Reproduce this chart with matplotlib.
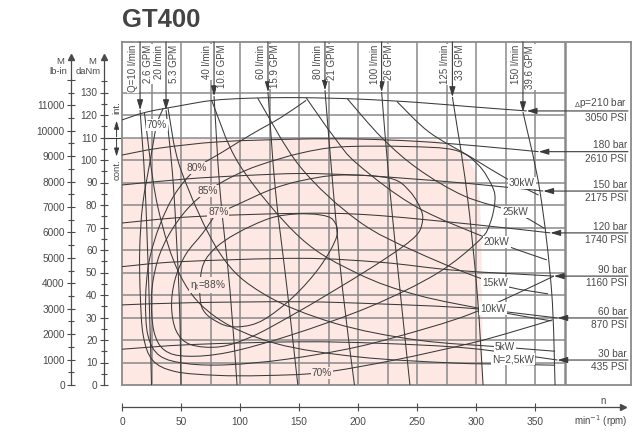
import matplotlib
matplotlib.use("Agg")
import matplotlib.pyplot as plt
from matplotlib.path import Path
from matplotlib.patches import PathPatch

plt.rcParams["font.family"] = ["Liberation Sans", "DejaVu Sans"]

# ---- values: speed n in rpm, torque M in daNm ----
rpm_ticks = [0, 50, 100, 150, 200, 250, 300, 350]
danm_ticks = list(range(0, 140, 10))
lbin_ticks = list(range(0, 12000, 1000))

# continuous duty area (pink)
cont_rpm = [0, 100, 200, 266, 289, 299, 303.4, 304.8, 305.7]
cont_torque = [109.6, 109.6, 109.5, 108.9, 103.7, 95.6, 82.2, 57.0, 0]

# pressure lines (dp)
pressure_bar = ["${}_{\\Delta}$p=210 bar", "180 bar", "150 bar", "120 bar", "90 bar", "60 bar", "30 bar"]
pressure_psi = ["3050 PSI", "2610 PSI", "2175 PSI", "1740 PSI", "1160 PSI", "870 PSI", "435 PSI"]
pressure_rpm = [
    [0, 20, 49, 77, 110, 151, 199, 250, 295, 343],
    [0, 32, 83, 150, 200, 250, 300, 353],
    [0, 55, 100, 151, 199, 236, 295, 357],
    [0, 60, 151, 210, 295, 363],
    [0, 49, 151, 220, 282, 366],
    [0, 60, 151, 220, 295, 369],
    [0, 60, 151, 220, 295, 369],
]
pressure_torque = [
    [117.8, 121.2, 124.1, 126.5, 127.5, 127.7, 127.1, 125.6, 123.7, 121.8],
    [102.2, 105.3, 108.1, 109.3, 109.3, 108.3, 106.3, 103.7],
    [88.9, 91.6, 93.0, 94.0, 93.3, 92.0, 89.5, 86.2],
    [72.0, 74.8, 76.3, 75.6, 71.5, 67.6],
    [52.6, 54.8, 56.3, 54.5, 51.0, 48.4],
    [35.6, 36.6, 37.0, 36.0, 34.1, 29.8],
    [15.9, 18.0, 19.2, 18.5, 16.3, 11.1],
]

# flow lines (Q)
flow_lpm = ["Q=10 l/min", "20 l/min", "40 l/min", "60 l/min", "80 l/min", "100 l/min", "125 l/min", "150 l/min"]
flow_gpm = ["2.6 GPM", "5.3 GPM", "10.6 GPM", "15.9 GPM", "21 GPM", "26 GPM", "33 GPM", "39.6 GPM"]
flow_rpm = [
    [15.3, 19.5, 23.0, 25.0],
    [37.3, 43.5, 48.5, 50.0],
    [78.0, 83.0, 91.5, 97.5],
    [123.7, 130.0, 140.0, 149.0],
    [172.0, 179.0, 187.0, 197.0],
    [220.0, 227.0, 235.6, 244.0],
    [280.0, 292.0, 300.8, 306.0],
    [339.8, 354.0, 364.0, 367.0],
]
flow_torque = [
    [122.2, 89.0, 39.0, 0],
    [122.2, 89.0, 39.0, 0],
    [128.4, 86.7, 42.2, 0],
    [130.2, 86.7, 42.2, 0],
    [131.0, 86.7, 42.2, 0],
    [130.2, 86.7, 42.2, 0],
    [128.0, 86.7, 42.2, 0],
    [121.3, 86.7, 42.2, 0],
]

# power lines (N)
power_label = ["30kW", "25kW", "20kW", "15kW", "10kW", "5kW", "N=2,5kW"]
power_label_rpm = [338.7, 333.0, 317.5, 316.0, 314.4, 324.6, 331.4]
power_label_torque = [89.9, 76.7, 63.7, 45.2, 34.0, 17.0, 11.4]
power_rpm = [
    [233, 260, 295, 325, 353],
    [191, 220, 251, 290, 333, 358],
    [156, 180, 200, 250, 317, 360],
    [115, 151, 200, 250, 316, 361],
    [76, 100, 151, 200, 250, 314, 364],
    [39, 50, 83, 120, 180, 250, 324, 367],
    [19, 30, 50, 80, 130, 200, 280, 331, 367],
]
power_torque = [
    [126.0, 112.5, 101.5, 92.0, 84.4],
    [127.2, 110.0, 96.0, 84.0, 76.7, 69.6],
    [127.7, 110.0, 98.0, 79.0, 63.7, 55.6],
    [127.5, 97.0, 73.0, 59.0, 45.2, 40.5],
    [126.5, 97.5, 65.5, 49.5, 40.0, 33.0, 28.5],
    [123.0, 95.5, 58.5, 40.5, 27.5, 20.0, 16.8, 15.0],
    [121.0, 80.0, 48.0, 30.0, 18.5, 12.5, 9.8, 9.2, 8.8],
]

# efficiency lines (eta_t)
eff70_rpm = [35, 29.4, 24, 17.5, 15, 15.5, 18, 26, 45, 80, 120, 169, 230, 295, 330, 365]
eff70_torque = [123.0, 115.6, 100, 80, 60, 40, 22, 11, 6, 4.3, 4.2, 5.5, 11, 18.5, 23.5, 29]
eff80_rpm = [156, 135, 110, 85, 63.3, 45, 32, 23, 20, 22, 32, 55, 90, 140, 200, 260, 295, 330, 366]
eff80_torque = [126.5, 119, 111.5, 103.5, 96.3, 85, 71, 55, 38, 22, 13, 9.5, 9, 11.5, 17, 25.5, 31.5, 39.5, 48.4]
eff85_rpm = [72.5, 95, 117, 151, 185, 240, 282, 302, 314, 316, 312, 303, 267, 210, 142, 90, 55, 36, 27, 25, 30, 40, 55]
eff85_torque = [86.2, 93, 97.8, 103, 105.8, 106, 104.4, 97.8, 88, 81.5, 72, 64.4, 49.6, 34.8, 22, 14.5, 12.8, 15.5, 24, 40, 55, 67, 78]
eff87_rpm = [81.6, 91.5, 125.4, 151, 184.7, 227, 244, 254, 254, 249.7, 238, 212.7, 176, 142, 110, 83, 58, 46, 42, 45, 54, 68.6]
eff87_torque = [77, 78.7, 86.7, 90.7, 93.3, 91.9, 86, 77, 71.1, 66.7, 61.5, 52.6, 40.8, 30.4, 21.5, 17, 18, 24, 35, 47, 58, 67.6]
eff88_rpm = [67.5, 77.4, 97.2, 125.4, 148, 167.8, 179, 182, 167.8, 145.2, 119.7, 100, 83.1, 67.5]
eff88_torque = [51.1, 60, 67.4, 74.1, 76, 75.6, 73.3, 66.1, 52.6, 39.2, 28.9, 25.9, 27.4, 34.8]
eff_label = ["70%", "80%", "85%", "87%", "η$_\\mathregular{t}$=88%", "70%"]
eff_label_rpm = [29.4, 63.3, 72.5, 81.6, 73.1, 169.2]
eff_label_torque = [115.6, 96.3, 86.2, 77.0, 44.4, 5.5]

# ---- styling ----
W, H = 638, 434
N_MAX = (631 - 122) / 1.18
M_MAX = (385 - 42) / 2.25
LB_PER_DANM = 1 / 0.0112985
LINE = "#3a3a3a"
GRIDC = "#8a8a8a"
TXT = "#4a4a4a"
PINK = "#fde8e3"


def curve(ax, xs, ys, closed=False, **kw):
    # smooth line through the read points (Catmull-Rom drawn as Bezier path)
    pts = list(zip(xs, ys))
    n = len(pts)

    def get(i):
        if closed:
            return pts[i % n]
        return pts[min(max(i, 0), n - 1)]

    verts = [pts[0]]
    codes = [Path.MOVETO]
    for i in range(n if closed else n - 1):
        p0, p1, p2, p3 = get(i - 1), get(i), get(i + 1), get(i + 2)
        c1 = (p1[0] + (p2[0] - p0[0]) / 6, p1[1] + (p2[1] - p0[1]) / 6)
        c2 = (p2[0] - (p3[0] - p1[0]) / 6, p2[1] - (p3[1] - p1[1]) / 6)
        verts += [c1, c2, p2]
        codes += [Path.CURVE4] * 3
    kw.setdefault("ec", LINE)
    kw.setdefault("lw", 0.75)
    kw.setdefault("zorder", 3)
    ax.add_patch(PathPatch(Path(verts, codes), fill=False, **kw))


fig = plt.figure(figsize=(W / 100, H / 100), dpi=100)

# main chart box
ax = fig.add_axes([122 / W, 1 - 385 / H, (631 - 122) / W, (385 - 42) / H])
ax.set_xlim(0, N_MAX)
ax.set_ylim(0, M_MAX)
ax.set_xticks([])
ax.set_yticks([])
for s in ax.spines.values():
    s.set_color(GRIDC)
    s.set_linewidth(1.3)

ax.fill(cont_rpm + [0], cont_torque + [0], color=PINK, lw=0, zorder=0)

# grid
ax.vlines(list(range(25, 375, 25)), 0, M_MAX, color=GRIDC, lw=1.1, zorder=1)
ax.vlines([375], 0, M_MAX, color=GRIDC, lw=1.8, zorder=1)
ax.hlines(danm_ticks[1:], 0, 375, color=GRIDC, lw=1.1, zorder=1)

# pressure lines with labels on the right
for xs, ys, bar, psi in zip(pressure_rpm, pressure_torque, pressure_bar, pressure_psi):
    curve(ax, xs, ys)
    ax.annotate("", xy=(xs[-1], ys[-1]), xytext=(428.8, ys[-1]),
                arrowprops=dict(arrowstyle="-|>,head_length=0.6,head_width=0.18",
                                color=LINE, lw=0.8, shrinkA=0, shrinkB=0), zorder=4)
    ax.annotate(bar, xy=(428, ys[-1]), xytext=(0, 1), textcoords="offset points",
                ha="right", va="bottom", fontsize=7.3, color=TXT, zorder=5)
    ax.annotate(psi, xy=(428, ys[-1]), xytext=(0, -1.5), textcoords="offset points",
                ha="right", va="top", fontsize=7.3, color=TXT, zorder=5)

# flow lines with labels on top
for xs, ys, q, g in zip(flow_rpm, flow_torque, flow_lpm, flow_gpm):
    curve(ax, xs, ys)
    ax.annotate("", xy=(xs[0], ys[0]), xytext=(xs[0], M_MAX),
                arrowprops=dict(arrowstyle="-|>,head_length=0.6,head_width=0.18",
                                color=LINE, lw=0.8, shrinkA=0, shrinkB=0), zorder=4)
    box = dict(boxstyle="square,pad=0.1", fc="white", ec="none")
    ax.annotate(q, xy=(xs[0], M_MAX), xytext=(-1.5, -2), textcoords="offset points",
                rotation=90, ha="right", va="top", fontsize=7, color=TXT, bbox=box, zorder=5)
    ax.annotate(g, xy=(xs[0], M_MAX), xytext=(1.8, -2), textcoords="offset points",
                rotation=90, ha="left", va="top", fontsize=7, color=TXT, bbox=box, zorder=5)

# power lines
for xs, ys in zip(power_rpm, power_torque):
    curve(ax, xs, ys)
for t, x, y in zip(power_label, power_label_rpm, power_label_torque):
    ax.text(x, y, t, ha="center", va="center", fontsize=7.3, color=TXT, zorder=6,
            bbox=dict(boxstyle="square,pad=0.1", fc="white", ec="none"))

# efficiency lines
curve(ax, eff70_rpm, eff70_torque)
curve(ax, eff80_rpm, eff80_torque)
curve(ax, eff85_rpm, eff85_torque, closed=True)
curve(ax, eff87_rpm, eff87_torque, closed=True)
curve(ax, eff88_rpm, eff88_torque, closed=True)
for t, x, y in zip(eff_label, eff_label_rpm, eff_label_torque):
    fc = "white" if y > 110 else PINK
    ax.text(x, y, t, ha="center", va="center", fontsize=7.3, color=TXT, zorder=6,
            bbox=dict(boxstyle="square,pad=0.1", fc=fc, ec="none"))

# int. / cont. marks between the torque scale and the box
ax.plot([-15.7, -0.8], [110, 110], color=LINE, lw=0.8, clip_on=False)
ax.annotate("", xy=(-4.6, 117.5), xytext=(-4.6, 110.3),
            arrowprops=dict(arrowstyle="-|>,head_length=0.5,head_width=0.15", color=LINE, lw=0.7,
                            shrinkA=0, shrinkB=0), annotation_clip=False)
ax.annotate("", xy=(-4.6, 101.5), xytext=(-4.6, 109.7),
            arrowprops=dict(arrowstyle="-|>,head_length=0.5,head_width=0.15", color=LINE, lw=0.7,
                            shrinkA=0, shrinkB=0), annotation_clip=False)
ax.text(-4.2, 123.5, "int.", rotation=90, ha="center", va="center", fontsize=6.8, color=TXT, clip_on=False)
ax.text(-4.2, 95.5, "cont.", rotation=90, ha="center", va="center", fontsize=6.8, color=TXT, clip_on=False)


def left_scale(xpx, top, major, minor, label_major):
    a = fig.add_axes([xpx / W, 1 - 385 / H, 0.0001, (385 - 42) / H])
    a.set_ylim(0, top)
    a.set_xlim(0, 1)
    a.patch.set_visible(False)
    for k in ["right", "top", "bottom"]:
        a.spines[k].set_visible(False)
    a.spines["left"].set_color(TXT)
    a.spines["left"].set_linewidth(0.9)
    a.set_xticks([])
    a.set_yticks(major)
    a.set_yticklabels(label_major)
    a.set_yticks(minor, minor=True)
    a.tick_params(axis="y", which="major", direction="inout", length=6, width=0.8,
                  colors=TXT, labelsize=7.3, pad=1.5)
    a.tick_params(axis="y", which="minor", direction="inout", length=4, width=0.8, colors=TXT)
    return a


arrow_top = (385 - 57) / 2.25
lb = left_scale(71, M_MAX * LB_PER_DANM, lbin_ticks + [12000],
                [v + 500 for v in lbin_ticks], [str(v) for v in lbin_ticks] + [""])
lb.spines["left"].set_bounds(0, arrow_top * LB_PER_DANM)
lb.plot([0], [arrow_top * LB_PER_DANM], marker="^", ms=5, color=TXT, clip_on=False)
da = left_scale(103.5, M_MAX, danm_ticks, [v + 5 for v in danm_ticks],
                [str(v) for v in danm_ticks])
da.spines["left"].set_bounds(0, arrow_top)
da.plot([0], [arrow_top], marker="^", ms=5, color=TXT, clip_on=False)

fig.text(60 / W, 1 - 62 / H, "M", ha="center", va="center", fontsize=6.8, color=TXT)
fig.text(67 / W, 1 - 71 / H, "lb-in", ha="right", va="center", fontsize=6.8, color=TXT)
fig.text(92 / W, 1 - 62 / H, "M", ha="center", va="center", fontsize=6.8, color=TXT)
fig.text(101 / W, 1 - 71 / H, "daNm", ha="right", va="center", fontsize=6.8, color=TXT)

# speed scale
nx = fig.add_axes([122 / W, 1 - 407 / H, (631 - 122) / W, 0.0001])
nx.set_xlim(0, N_MAX)
nx.patch.set_visible(False)
for k in ["left", "right", "top"]:
    nx.spines[k].set_visible(False)
nx.spines["bottom"].set_color(TXT)
nx.spines["bottom"].set_linewidth(0.9)
n_end = (623 - 122) / 1.18
nx.spines["bottom"].set_bounds(0, n_end)
nx.plot([n_end], [0], marker=">", ms=4.5, color=TXT, clip_on=False)
nx.set_yticks([])
nx.set_xticks(rpm_ticks)
nx.set_xticklabels([str(v) for v in rpm_ticks])
nx.tick_params(axis="x", direction="inout", length=6, width=0.8, colors=TXT, labelsize=7.3, pad=4)
fig.text(603 / W, 1 - 401 / H, "n", ha="center", va="center", fontsize=7, color=TXT)
fig.text(628 / W, 1 - 421 / H, "min$^{-1}$ (rpm)", ha="right", va="center", fontsize=7, color=TXT)

fig.text(122 / W, 1 - 20 / H, "GT400", ha="left", va="center", fontsize=18.5,
         fontweight="bold", color="#444444")

fig.savefig("out.png", dpi=100)
